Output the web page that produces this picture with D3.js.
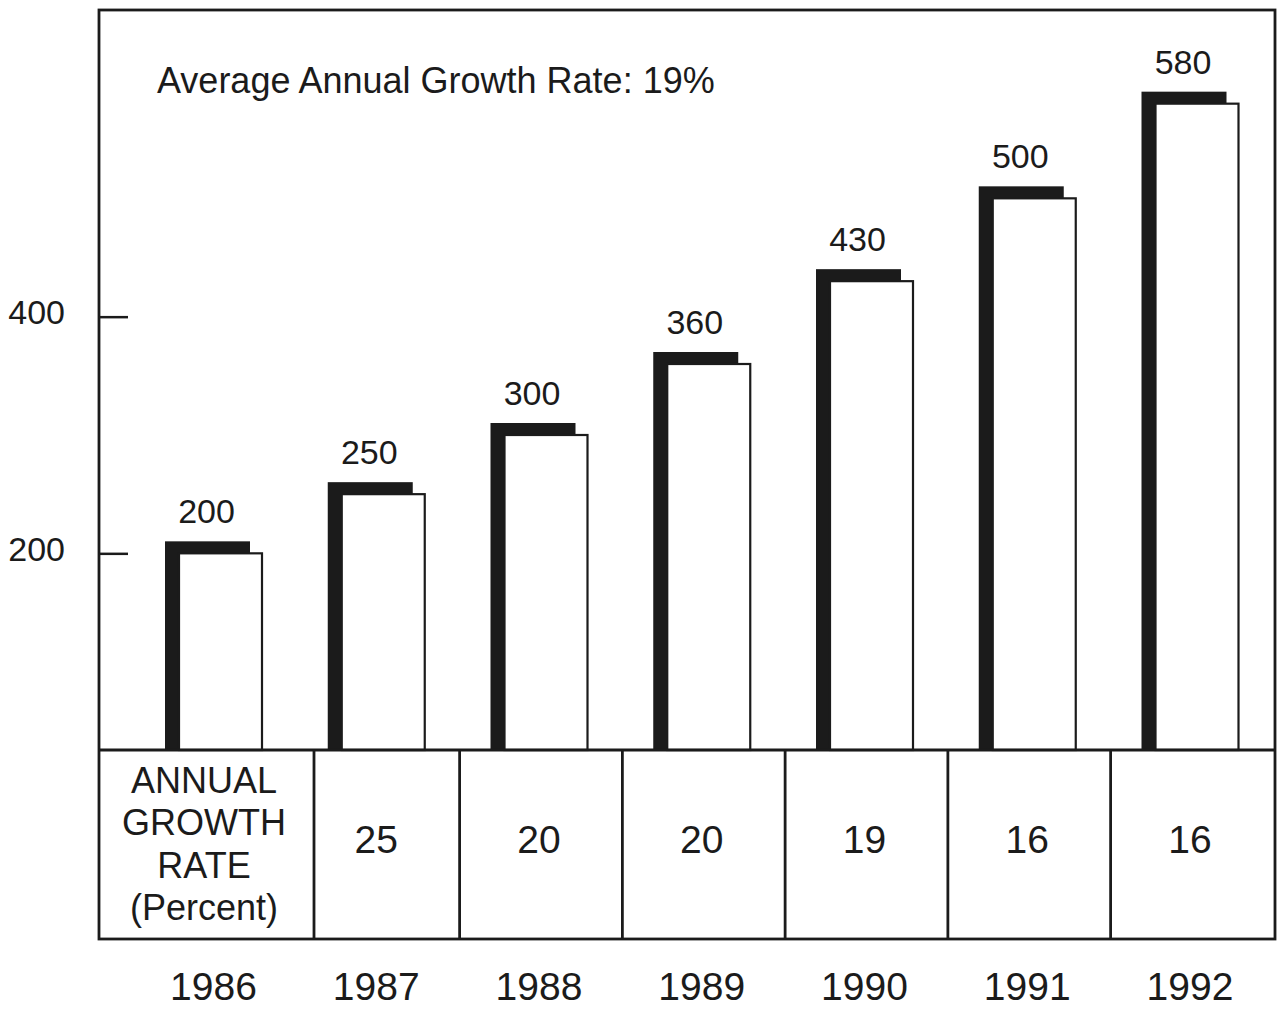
<!DOCTYPE html>
<html>
<head>
<meta charset="utf-8">
<script src="https://cdn.jsdelivr.net/npm/d3@7"></script>
<style>
  body { margin: 0; background: #fff; }
  text { font-family: "Liberation Sans", Arial, Helvetica, sans-serif; fill: #1b1b1b; }
</style>
</head>
<body>
<div id="canvasRoot"></div>
<script>
//Chart data
const years = ["1986", "1987", "1988", "1989", "1990", "1991", "1992"];
const totals = [200, 250, 300, 360, 430, 500, 580];
const growthRates = [null, 25, 20, 20, 19, 16, 16];
const yTicks = [200, 400];
const rowLabel = ["ANNUAL", "GROWTH", "RATE", "(Percent)"];
const title = "Average Annual Growth Rate: 19%";

//Layout
const W = 1280, H = 1015;
const frame = {left: 99, top: 10, right: 1275, bottom: 939};
const baseY = 750;          //top line of the table, bars stop here
const labelColRight = 314;  //the first table column holds the row label
const shadow = {dx: 14, dy: 12};
const ink = "#1b1b1b";

let svg = d3.select("#canvasRoot")
  .append("svg")
  .attr("width", W)
  .attr("height", H);

//Scales
let x = d3.scalePoint()
  .domain(years)
  .range([213.5, 1190]);
let y = d3.scaleLinear()
  .domain([0, 600])
  .range([790, 80]);
let barW = 83;

//Bars: black block offset up-left, white box on top
let barGs = svg.selectAll("g.bar")
  .data(years.map((yr, i) => ({year: yr, value: totals[i]})))
  .enter()
    .append("g")
    .classed("bar", true)
    .attr("transform", d => `translate(${x(d.year)},0)`);

barGs.append("rect")
  .attr("x", -48.5)
  .attr("y", d => y(d.value) - shadow.dy)
  .attr("width", barW + 2)
  .attr("height", d => baseY - y(d.value) + shadow.dy)
  .attr("fill", ink);

barGs.append("rect")
  .attr("x", -48.5 + shadow.dx)
  .attr("y", d => y(d.value))
  .attr("width", barW)
  .attr("height", d => baseY - y(d.value))
  .attr("fill", "#fff")
  .attr("stroke", ink)
  .attr("stroke-width", 2.2);

barGs.append("text")
  .attr("x", -7)
  .attr("y", d => y(d.value) - shadow.dy - 18)
  .attr("text-anchor", "middle")
  .style("font-size", "34px")
  .text(d => d.value);

//Frame and table grid
let grid = svg.append("g")
  .attr("fill", "none")
  .attr("stroke", ink)
  .attr("stroke-width", 2.8);
grid.append("rect")
  .attr("x", frame.left)
  .attr("y", frame.top)
  .attr("width", frame.right - frame.left)
  .attr("height", frame.bottom - frame.top);
grid.append("line")
  .attr("x1", frame.left).attr("x2", frame.right)
  .attr("y1", baseY).attr("y2", baseY);

let dividers = years.slice(1).map((yr, i) =>
  i === 0 ? labelColRight : x(yr) - x.step() / 2 + 2);
grid.selectAll("line.div")
  .data(dividers)
  .enter()
    .append("line")
    .classed("div", true)
    .attr("x1", d => d).attr("x2", d => d)
    .attr("y1", baseY).attr("y2", frame.bottom);

//Y axis, ticks pointing into the plot
let yAxis = d3.axisLeft(y)
  .tickValues(yTicks)
  .tickSizeInner(-29)
  .tickSizeOuter(0)
  .tickPadding(34);
let ga = svg.append("g")
  .attr("transform", `translate(${frame.left},0)`)
  .call(yAxis);
ga.select(".domain").remove();
ga.selectAll(".tick line").attr("stroke", ink).attr("stroke-width", 2.5);
ga.selectAll(".tick text")
  .attr("dy", "0.2em")
  .style("font-size", "34px")
  .style("font-family", "'Liberation Sans', Arial, sans-serif")
  .attr("fill", ink);

//Table contents
svg.append("text")
  .attr("text-anchor", "middle")
  .style("font-size", "36px")
  .selectAll("tspan")
  .data(rowLabel)
  .enter()
    .append("tspan")
    .attr("x", 204)
    .attr("y", (_, i) => 793 + i * 42.3)
    .text(d => d);

svg.selectAll("text.rate")
  .data(years.map((yr, i) => ({year: yr, rate: growthRates[i]})).filter(d => d.rate !== null))
  .enter()
    .append("text")
    .classed("rate", true)
    .attr("x", d => x(d.year))
    .attr("y", 853)
    .attr("text-anchor", "middle")
    .style("font-size", "39px")
    .text(d => d.rate);

svg.selectAll("text.year")
  .data(years)
  .enter()
    .append("text")
    .classed("year", true)
    .attr("x", d => x(d))
    .attr("y", 1000)
    .attr("text-anchor", "middle")
    .style("font-size", "39px")
    .text(d => d);

//Title
svg.append("text")
  .attr("x", 157)
  .attr("y", 93)
  .style("font-size", "36px")
  .text(title);
</script>
</body>
</html>
